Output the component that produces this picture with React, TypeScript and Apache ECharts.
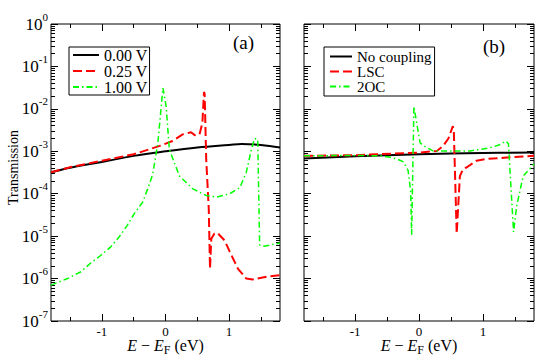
import React, { useEffect, useRef } from 'react';
import * as echarts from 'echarts';

const SERIF = "'Liberation Serif', serif";

// tick positions / labels
const xTickValues = [-1, 0, 1];
const xMinorTicks = [-1.5, -0.5, 0.5, 1.5];
const yMinExp = -7;
const yMaxExp = 0;

// legends
const namesA = ['0.00 V', '0.25 V', '1.00 V'];
const namesB = ['No coupling', 'LSC', '2OC'];

// panel (a): [E - EF (eV), transmission]
const a000V: [number, number][] = [
  [-1.8, 3.2e-4], [-1.5, 4.1e-4], [-1.0, 5.6e-4], [-0.5, 7.8e-4], [0, 1.0e-3],
  [0.5, 1.23e-3], [1.0, 1.41e-3], [1.2, 1.48e-3], [1.5, 1.41e-3], [1.8, 1.23e-3],
];
const a025V: [number, number][] = [
  [-1.8, 3.2e-4], [-1.5, 4.2e-4], [-1.0, 6.0e-4], [-0.5, 8.5e-4], [-0.09, 1.34e-3],
  [0.11, 1.75e-3], [0.27, 2.5e-3], [0.40, 2.8e-3], [0.46, 2.4e-3], [0.535, 2.5e-3],
  [0.58, 4.7e-3], [0.605, 2.5e-2], [0.615, 2.3e-2], [0.64, 6.5e-4], [0.68, 4.4e-5],
  [0.70, 1.7e-6], [0.72, 8.7e-6], [0.77, 1.15e-5], [0.82, 1.18e-5], [0.93, 7.9e-6],
  [1.01, 4.3e-6], [1.14, 1.7e-6], [1.27, 1.0e-6], [1.37, 9.5e-7], [1.59, 1.1e-6],
  [1.8, 1.2e-6],
];
const a100V: [number, number][] = [
  [-1.8, 7.0e-7], [-1.54, 1.0e-6], [-1.33, 1.45e-6], [-1.18, 2.3e-6], [-1.02, 3.5e-6],
  [-0.86, 5.6e-6], [-0.73, 9.5e-6], [-0.60, 1.8e-5], [-0.49, 3.4e-5], [-0.36, 6.3e-5],
  [-0.28, 1.3e-4], [-0.20, 2.9e-4], [-0.12, 1.6e-3], [-0.04, 3.1e-2], [0.01, 1.15e-2],
  [0.06, 1.1e-3], [0.22, 2.6e-4], [0.43, 1.3e-4], [0.64, 9.1e-5], [0.8, 8.3e-5],
  [1.01, 1.0e-4], [1.17, 1.4e-4], [1.27, 3.2e-4], [1.35, 1.1e-3], [1.40, 2.0e-3],
  [1.45, 1.9e-3], [1.48, 6.2e-6], [1.55, 5.8e-6], [1.8, 6.9e-6],
];

// panel (b)
const bNoCoupling: [number, number][] = [
  [-1.8, 6.8e-4], [-1.0, 7.6e-4], [0, 8.5e-4], [1.0, 9.1e-4], [1.8, 9.3e-4],
];
const bLSC: [number, number][] = [
  [-1.8, 7.8e-4], [-1.0, 8.1e-4], [0, 9.3e-4], [0.28, 1.02e-3], [0.38, 1.35e-3],
  [0.46, 2.0e-3], [0.53, 3.9e-3], [0.545, 3.0e-3], [0.59, 1.15e-5], [0.64, 2.6e-4],
  [0.69, 3.8e-4], [0.75, 4.2e-4], [0.9, 6.0e-4], [1.06, 6.6e-4], [1.37, 7.1e-4],
  [1.8, 7.8e-4],
];
const b2OC: [number, number][] = [
  [-1.8, 7.8e-4], [-1.0, 8.0e-4], [-0.6, 7.8e-4], [-0.45, 7.2e-4], [-0.35, 6.6e-4],
  [-0.24, 5.6e-4], [-0.17, 3.5e-4], [-0.13, 1.1e-4], [-0.115, 1.05e-5], [-0.08, 1.15e-2],
  [0.016, 1.6e-3], [0.07, 1.35e-3], [0.17, 1.12e-3], [0.22, 1.02e-3], [0.59, 1.02e-3],
  [0.8, 1.02e-3], [1.1, 1.2e-3], [1.25, 1.4e-3], [1.36, 1.75e-3], [1.40, 1.5e-3],
  [1.48, 1.26e-5], [1.53, 5.2e-5], [1.63, 2.6e-4], [1.8, 5.0e-4],
];

const toLog = (d: [number, number][]) => d.map(([x, y]) => [x, Math.log10(y)]);

const yMinorTicks: number[] = [];
for (let n = yMinExp; n < yMaxExp; n++) {
  for (let k = 2; k <= 9; k++) yMinorTicks.push(n + Math.log10(k));
}

const tickStyle = { color: '#000', width: 1 };
const noLine = { show: false, onZero: false };

function makeXAxes(gridIndex: number) {
  const base = {
    type: 'value',
    gridIndex,
    min: -1.8,
    max: 1.8,
    splitLine: { show: false },
    axisLine: noLine,
  };
  return [
    {
      ...base,
      position: 'bottom',
      axisTick: { inside: true, length: 7, customValues: xTickValues, lineStyle: tickStyle },
      axisLabel: {
        customValues: xTickValues,
        margin: 4,
        fontFamily: SERIF,
        fontSize: 13,
        color: '#000',
        formatter: (v: number) => String(v),
      },
      name: '{i|E} \u2212 {i|E}{s|F} (eV)',
      nameLocation: 'middle',
      nameGap: 13,
      nameMoveOverlap: false,
      nameTextStyle: {
        fontFamily: SERIF,
        fontSize: 16,
        color: '#000',
        lineHeight: 22,
        rich: {
          i: { fontFamily: SERIF, fontSize: 16, fontStyle: 'italic', color: '#000', lineHeight: 22 },
          s: { fontFamily: SERIF, fontSize: 12, color: '#000', lineHeight: 12, verticalAlign: 'bottom' },
        },
      },
    },
    {
      ...base,
      position: 'bottom',
      axisTick: { inside: true, length: 4, customValues: xMinorTicks, lineStyle: tickStyle },
      axisLabel: { show: false },
    },
    {
      ...base,
      position: 'top',
      axisTick: { inside: true, length: 7, customValues: xTickValues, lineStyle: tickStyle },
      axisLabel: { show: false },
    },
    {
      ...base,
      position: 'top',
      axisTick: { inside: true, length: 4, customValues: xMinorTicks, lineStyle: tickStyle },
      axisLabel: { show: false },
    },
  ];
}

function makeYAxes(gridIndex: number, withLabels: boolean) {
  const base = {
    type: 'value',
    gridIndex,
    min: yMinExp,
    max: yMaxExp,
    interval: 1,
    splitLine: { show: false },
    axisLine: noLine,
  };
  const major: any = {
    ...base,
    position: 'left',
    axisTick: { inside: true, length: 7, lineStyle: tickStyle },
    axisLabel: withLabels
      ? {
          margin: 3,
          formatter: (v: number) => `{b|10}{s|${v}}`,
          rich: {
            b: { fontFamily: SERIF, fontSize: 17, color: '#000', lineHeight: 26 },
            s: { fontFamily: SERIF, fontSize: 11, color: '#000', lineHeight: 12, verticalAlign: 'top' },
          },
        }
      : { show: false },
  };
  if (withLabels) {
    major.name = 'Transmission';
    major.nameLocation = 'middle';
    major.nameRotate = 90;
    major.nameGap = 31;
    major.nameMoveOverlap = false;
    major.nameTextStyle = { fontFamily: SERIF, fontSize: 14, color: '#000', padding: [0, 0, 0, 10] };
  }
  return [
    major,
    {
      ...base,
      position: 'left',
      axisTick: { inside: true, length: 4, customValues: yMinorTicks, lineStyle: tickStyle },
      axisLabel: { show: false },
    },
    {
      ...base,
      position: 'right',
      axisTick: { inside: true, length: 7, lineStyle: tickStyle },
      axisLabel: { show: false },
    },
    {
      ...base,
      position: 'right',
      axisTick: { inside: true, length: 4, customValues: yMinorTicks, lineStyle: tickStyle },
      axisLabel: { show: false },
    },
  ];
}

function lineSeries(name: string, data: [number, number][], axisIndex: number, color: string, type: any, width: number, smooth: boolean) {
  return {
    type: 'line',
    name,
    xAxisIndex: axisIndex,
    yAxisIndex: axisIndex,
    data: toLog(data),
    symbol: 'none',
    showSymbol: false,
    smooth: smooth ? 0.4 : false,
    lineStyle: { color, width, type },
    itemStyle: { color },
  };
}

const RED_DASH = [9, 4];
const GREEN_DASHDOT = [6, 3, 1.5, 3];

export default function App() {
  const ref = useRef<HTMLDivElement>(null);
  useEffect(() => {
    if (!ref.current) return;
    const chart = echarts.init(ref.current, undefined, { renderer: 'svg' });
    const legendText = (size: number) => ({ fontFamily: SERIF, fontSize: size, color: '#000', lineHeight: 15 });
    const legendCommon = {
      orient: 'vertical',
      itemHeight: 10,
      itemGap: 0,
      borderColor: '#000',
      borderWidth: 1,
      borderRadius: 0,
      backgroundColor: '#fff',
      selectedMode: false,
      itemStyle: { opacity: 0, borderWidth: 0 },
    };
    chart.setOption({
      animation: false,
      backgroundColor: '#fff',
      grid: [
        { left: 51, top: 24, width: 229, height: 299, show: true, borderColor: '#000', borderWidth: 1, backgroundColor: 'transparent' },
        { left: 304, top: 24, width: 230, height: 299, show: true, borderColor: '#000', borderWidth: 1, backgroundColor: 'transparent' },
      ],
      xAxis: [...makeXAxes(0), ...makeXAxes(1)],
      yAxis: [...makeYAxes(0, true), ...makeYAxes(1, false)],
      legend: [
        {
          ...legendCommon,
          data: namesA,
          left: 69,
          top: 47,
          itemWidth: 26,
          padding: [0, 2, 0, 3],
          textStyle: legendText(16),
        },
        {
          ...legendCommon,
          data: namesB,
          left: 324,
          top: 47,
          itemWidth: 22,
          padding: [2, 3, 2, 5],
          textStyle: legendText(15),
        },
      ],
      graphic: [
        { type: 'text', left: 233, top: 33, style: { text: '(a)', fontFamily: SERIF, fontSize: 19, fill: '#000' } },
        { type: 'text', left: 483, top: 37, style: { text: '(b)', fontFamily: SERIF, fontSize: 19, fill: '#000' } },
      ],
      series: [
        lineSeries(namesA[0], a000V, 0, '#000000', 'solid', 2, true),
        lineSeries(namesA[1], a025V, 0, '#ff0000', RED_DASH, 2, false),
        lineSeries(namesA[2], a100V, 0, '#00ff00', GREEN_DASHDOT, 1.5, false),
        lineSeries(namesB[0], bNoCoupling, 4, '#000000', 'solid', 2, true),
        lineSeries(namesB[1], bLSC, 4, '#ff0000', RED_DASH, 2, false),
        lineSeries(namesB[2], b2OC, 4, '#00ff00', GREEN_DASHDOT, 1.5, false),
      ],
    });
    return () => chart.dispose();
  }, []);
  return <div ref={ref} style={{ position: 'absolute', left: 0, top: 0, width: 550, height: 361 }} />;
}
